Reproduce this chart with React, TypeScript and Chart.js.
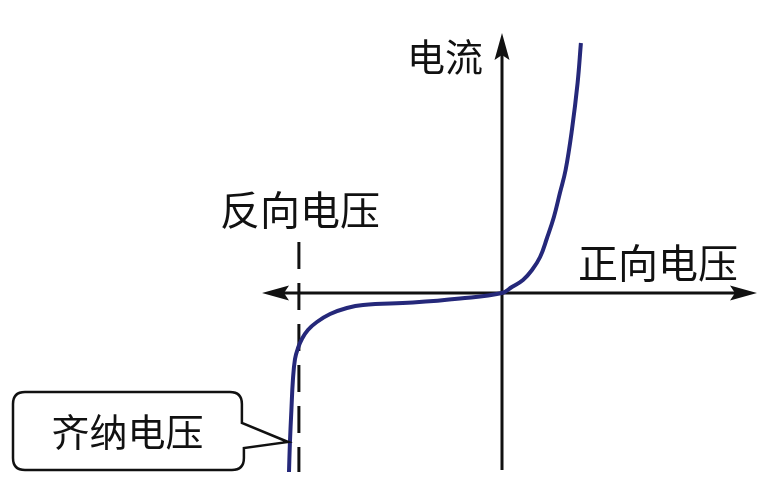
import React, { useEffect, useRef } from "react";
import { Chart, registerables } from "chart.js";

Chart.register(...registerables);

// Diode I-V characteristic (arbitrary units)
const voltage = [
  -7.1, -7.07, -7.02, -6.97, -6.9, -6.8, -6.67, -6.47, -6.17, -5.73, -5.17, -4.63, -2.97, -1.4,
  0, 0.33, 0.7, 1.0, 1.27, 1.5, 1.73, 1.93, 2.12, 2.33, 2.52, 2.63,
];
const current = [
  -8.95, -7.5, -5.85, -4.35, -3.3, -2.75, -2.3, -1.85, -1.45, -1.05, -0.75, -0.6, -0.48, -0.28,
  0, 0.3, 0.65, 1.15, 1.8, 2.75, 3.8, 5.0, 6.15, 8.15, 10.5, 12.5,
];

const zenerVoltage = -6.77;
const xRange = [-8, 8.5];
const yRange = [-9, 13];

const labelCurrent = "电流";
const labelForward = "正向电压";
const labelReverse = "反向电压";
const labelZener = "齐纳电压";

const FONT = '"Noto Sans CJK SC", "Noto Sans", sans-serif';

function arrowHead(ctx: CanvasRenderingContext2D, tx: number, ty: number, dx: number, dy: number) {
  const len = 27;
  const half = 7.5;
  const bx = tx - dx * len;
  const by = ty - dy * len;
  const px = -dy;
  const py = dx;
  ctx.beginPath();
  ctx.moveTo(tx, ty);
  ctx.lineTo(bx + px * half, by + py * half);
  ctx.lineTo(bx + dx * 5, by + dy * 5);
  ctx.lineTo(bx - px * half, by - py * half);
  ctx.closePath();
  ctx.fill();
}

const diagramPlugin = {
  id: "diagram",
  beforeDatasetsDraw(chart: any) {
    const ctx: CanvasRenderingContext2D = chart.ctx;
    const xs = chart.scales.x;
    const ys = chart.scales.y;
    const ox = xs.getPixelForValue(0);
    const oy = ys.getPixelForValue(0);
    ctx.save();
    ctx.strokeStyle = "#111";
    ctx.fillStyle = "#111";
    ctx.lineWidth = 3;
    // x axis
    const xl = xs.getPixelForValue(xRange[0]);
    const xr = xs.getPixelForValue(xRange[1]);
    ctx.beginPath();
    ctx.moveTo(xl + 15, oy);
    ctx.lineTo(xr - 15, oy);
    ctx.stroke();
    arrowHead(ctx, xl, oy, -1, 0);
    arrowHead(ctx, xr, oy, 1, 0);
    // y axis
    const yb = ys.getPixelForValue(-8.85);
    const yt = ys.getPixelForValue(yRange[1]);
    ctx.beginPath();
    ctx.moveTo(ox, yb);
    ctx.lineTo(ox, yt + 15);
    ctx.stroke();
    arrowHead(ctx, ox, yt, 0, -1);
    // zener dashed line
    const zx = xs.getPixelForValue(zenerVoltage);
    ctx.setLineDash([27, 14]);
    ctx.beginPath();
    ctx.moveTo(zx, ys.getPixelForValue(2.55));
    ctx.lineTo(zx, ys.getPixelForValue(-8.95));
    ctx.stroke();
    ctx.restore();
  },
  afterDatasetsDraw(chart: any) {
    const ctx: CanvasRenderingContext2D = chart.ctx;
    const xs = chart.scales.x;
    const ys = chart.scales.y;
    const px = (v: number) => xs.getPixelForValue(v);
    const py = (v: number) => ys.getPixelForValue(v);
    ctx.save();
    ctx.fillStyle = "#111";
    ctx.textAlign = "center";
    ctx.textBaseline = "middle";
    ctx.font = `38px ${FONT}`;
    ctx.fillText(labelCurrent, px(-1.9), py(11.8));
    ctx.font = `40px ${FONT}`;
    ctx.fillText(labelForward, px(5.2), py(1.5));
    ctx.fillText(labelReverse, px(-6.73), py(4.15));

    // callout box
    const l = px(-16.3);
    const r = px(-8.67);
    const t = py(-4.95);
    const b = py(-8.85);
    const rad = 12;
    const p1 = py(-6.5);
    const p2 = py(-7.75);
    const tipX = px(-7.13);
    const tipY = py(-7.45);
    ctx.strokeStyle = "#111";
    ctx.lineWidth = 2.5;
    ctx.beginPath();
    ctx.moveTo(l + rad, t);
    ctx.lineTo(r - rad, t);
    ctx.quadraticCurveTo(r, t, r, t + rad);
    ctx.lineTo(r, p1);
    ctx.lineTo(tipX, tipY);
    ctx.lineTo(r + 2, p2);
    ctx.lineTo(r + 2, b - rad);
    ctx.quadraticCurveTo(r + 2, b, r + 2 - rad, b);
    ctx.lineTo(l + rad, b);
    ctx.quadraticCurveTo(l, b, l, b - rad);
    ctx.lineTo(l, t + rad);
    ctx.quadraticCurveTo(l, t, l + rad, t);
    ctx.closePath();
    ctx.stroke();
    ctx.font = `38px ${FONT}`;
    ctx.fillText(labelZener, (l + r) / 2, (t + b) / 2 + 1);
    ctx.restore();
  },
};

export default function App() {
  const ref = useRef<HTMLCanvasElement | null>(null);
  useEffect(() => {
    if (!ref.current) return;
    const chart = new Chart(ref.current, {
      type: "line",
      data: {
        datasets: [
          {
            data: voltage.map((v, i) => ({ x: v, y: current[i] })),
            borderColor: "#25287a",
            borderWidth: 4,
            pointRadius: 0,
            tension: 0.4,
            fill: false,
            clip: false as any,
          },
        ],
      },
      options: {
        animation: false,
        responsive: false,
        devicePixelRatio: 1,
        layout: { padding: { left: 262, right: 20, top: 33, bottom: 30 } },
        plugins: { legend: { display: false }, tooltip: { enabled: false } },
        scales: {
          x: { type: "linear", min: xRange[0], max: xRange[1], display: false },
          y: { type: "linear", min: yRange[0], max: yRange[1], display: false },
        },
      },
      plugins: [diagramPlugin],
    });
    return () => chart.destroy();
  }, []);
  return (
    <div style={{ position: "absolute", left: 0, top: 0, width: 777, height: 503, background: "#fff" }}>
      <canvas ref={ref} width={777} height={503} />
    </div>
  );
}
